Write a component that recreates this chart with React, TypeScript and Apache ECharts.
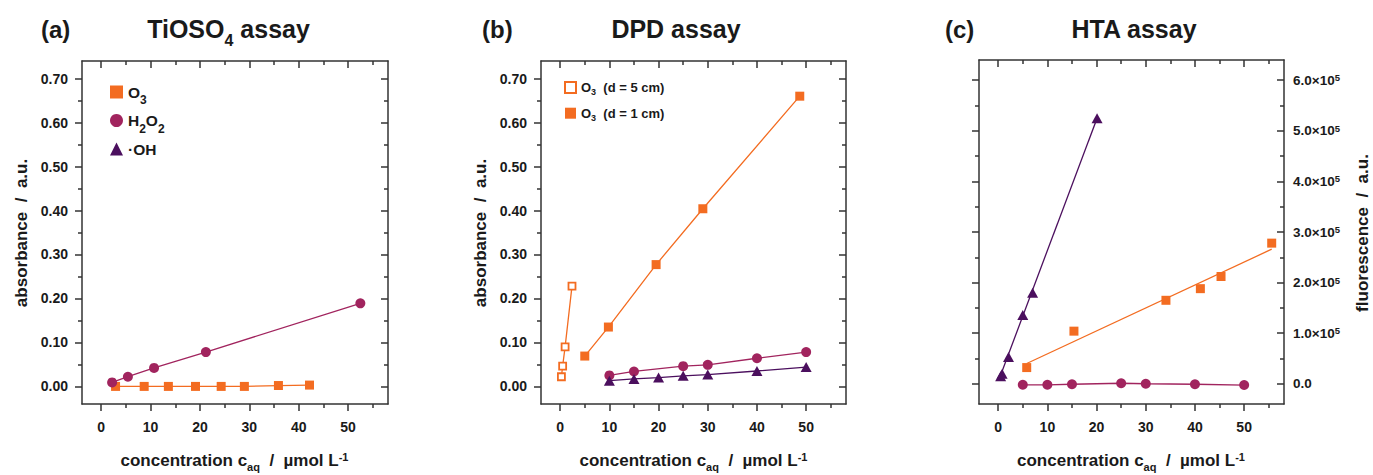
import React, { useEffect, useRef } from "react";
import * as echarts from "echarts";

// ---------- data ----------
const X_TICKS = [0, 10, 20, 30, 40, 50];
const X_MINOR = [5, 15, 25, 35, 45, 55];
const ABS_TICKS = [0, 0.1, 0.2, 0.3, 0.4, 0.5, 0.6, 0.7];
const ABS_MINOR = [0.05, 0.15, 0.25, 0.35, 0.45, 0.55, 0.65];
const FL_TICKS = [0, 100000, 200000, 300000, 400000, 500000, 600000];
const FL_MINOR = [50000, 150000, 250000, 350000, 450000, 550000];

// (a) TiOSO4 assay
const aO3 = [[2.9, 0], [8.7, 0], [13.6, 0], [19.1, 0], [24.3, 0], [29.0, 0], [35.9, 0.002], [42.2, 0.003]];
const aH2O2 = [[2.2, 0.009], [5.4, 0.022], [10.7, 0.042], [21.2, 0.078], [52.5, 0.189]];
const aOH: number[][] = [];

// (b) DPD assay
const bO3d5 = [[0.25, 0.022], [0.5, 0.046], [1.0, 0.09], [2.4, 0.228]];
const bO3d1 = [[5, 0.069], [9.8, 0.135], [19.5, 0.277], [29, 0.404], [48.7, 0.66]];
const bH2O2 = [[10, 0.025], [15, 0.034], [25, 0.046], [30, 0.049], [40, 0.064], [50, 0.078]];
const bOH = [[10, 0.013], [15, 0.017], [20, 0.02], [25, 0.024], [30, 0.027], [40, 0.035], [50, 0.044]];

// (c) HTA assay
const cO3 = [[5.8, 32000], [15.4, 104000], [34.1, 165000], [41.1, 188000], [45.3, 212000], [55.6, 278000]];
const cO3Fit = [[5.8, 40000], [55.6, 266000]];
const cH2O2 = [[5, -2000], [10, -2000], [15, -1000], [25, 1000], [30, 0], [40, -1000], [50, -2500]];
const cOH = [[0.5, 15000], [0.8, 20000], [2.1, 53000], [5.0, 136000], [7.0, 180000], [20.1, 525000]];
const cOHFit = [[0.3, 12000], [20.1, 525000]];

// ---------- styles ----------
const ORANGE = "#F36C21";
const MAROON = "#A1245E";
const PURPLE = "#4B0F5E";
const INK = "#1a1a1a";
const AXIS = "#333333";
const FONT = '"Liberation Sans", Arial, Helvetica, sans-serif';

const X_MIN = -3.9;
const X_MAX = 58.1;
const A_MIN = -0.04;
const A_MAX = 0.74;
const F_MIN = -40000;
const F_MAX = 640000;

const GRIDS = [
  { left: 82, top: 61, width: 306, height: 343 },
  { left: 541, top: 61, width: 305, height: 343 },
  { left: 979, top: 60, width: 305, height: 344 },
];

const lineStyleAxis = { color: AXIS, width: 1.5 };

function makeX(g: number) {
  const base: any = {
    type: "value", gridIndex: g, min: X_MIN, max: X_MAX,
    splitLine: { show: false },
    axisLine: { show: false, onZero: false },
    axisLabel: { show: false },
    axisTick: { show: false },
  };
  return [
    {
      ...base, position: "bottom",
      axisLine: { show: true, onZero: false, lineStyle: lineStyleAxis },
      axisTick: { show: true, inside: false, length: 7, customValues: X_TICKS, lineStyle: lineStyleAxis },
      axisLabel: {
        show: true, customValues: X_TICKS, margin: 16, color: INK,
        fontFamily: FONT, fontWeight: "bold", fontSize: 14,
        formatter: (v: number) => String(v),
      },
    },
    { ...base, position: "bottom", axisTick: { show: true, inside: false, length: 4, customValues: X_MINOR, lineStyle: lineStyleAxis } },
    {
      ...base, position: "top",
      axisLine: { show: true, onZero: false, lineStyle: lineStyleAxis },
      axisTick: { show: true, inside: true, length: 7, customValues: X_TICKS, lineStyle: lineStyleAxis },
    },
    { ...base, position: "top", axisTick: { show: true, inside: true, length: 4, customValues: X_MINOR, lineStyle: lineStyleAxis } },
  ];
}

function makeY(g: number, fluo: boolean) {
  const min = fluo ? F_MIN : A_MIN;
  const max = fluo ? F_MAX : A_MAX;
  const major = fluo ? FL_TICKS : ABS_TICKS;
  const minor = fluo ? FL_MINOR : ABS_MINOR;
  const base: any = {
    type: "value", gridIndex: g, min, max,
    splitLine: { show: false },
    axisLine: { show: false, onZero: false },
    axisLabel: { show: false },
    axisTick: { show: false },
  };
  const absLabel = {
    show: true, customValues: major, margin: 14, color: INK,
    fontFamily: FONT, fontWeight: "bold", fontSize: 14,
    formatter: (v: number) => v.toFixed(2),
  };
  const fluoLabel = {
    show: true, customValues: major, margin: 9, color: INK,
    formatter: (v: number) => (v === 0 ? "{a|0.0}" : `{a|${(v / 100000).toFixed(1)}×10}{s|5}`),
    rich: {
      a: { fontFamily: FONT, fontWeight: "bold", fontSize: 13.5, lineHeight: 17, color: INK },
      s: { fontFamily: FONT, fontWeight: "bold", fontSize: 9.5, lineHeight: 9.5, verticalAlign: "top", padding: [1, 0, 0, 0], color: INK },
    },
  };
  return [
    {
      ...base, position: "left",
      axisLine: { show: true, onZero: false, lineStyle: lineStyleAxis },
      axisTick: { show: true, inside: false, length: 7, customValues: major, lineStyle: lineStyleAxis },
      axisLabel: fluo ? { show: false } : absLabel,
    },
    { ...base, position: "left", axisTick: { show: true, inside: false, length: 4, customValues: minor, lineStyle: lineStyleAxis } },
    {
      ...base, position: "right",
      axisLine: { show: true, onZero: false, lineStyle: lineStyleAxis },
      axisTick: { show: true, inside: true, length: 7, customValues: major, lineStyle: lineStyleAxis },
      axisLabel: fluo ? fluoLabel : { show: false },
    },
    { ...base, position: "right", axisTick: { show: true, inside: true, length: 4, customValues: minor, lineStyle: lineStyleAxis } },
  ];
}

function lineSeries(name: string, g: number, data: number[][], color: string, symbol: string, size: any, itemStyle?: any) {
  return {
    name, type: "line", xAxisIndex: g * 4, yAxisIndex: g * 4, data,
    symbol, symbolSize: size, showSymbol: true,
    itemStyle: itemStyle || { color },
    lineStyle: { color, width: 1.3 },
    z: 3,
  };
}
function fitSeries(name: string, g: number, data: number[][], color: string) {
  return {
    name, type: "line", xAxisIndex: g * 4, yAxisIndex: g * 4, data,
    showSymbol: false, symbol: "none",
    lineStyle: { color, width: 1.3 }, z: 2,
  };
}
function scatterSeries(name: string, g: number, data: number[][], color: string, symbol: string, size: any) {
  return {
    name, type: "scatter", xAxisIndex: g * 4, yAxisIndex: g * 4, data,
    symbol, symbolSize: size, itemStyle: { color, opacity: 1 }, z: 4,
  };
}

const LEGEND_NAMES: Record<string, string> = {
  "a-O3": "{n|O}{s|3}",
  "a-H2O2": "{n|H}{s|2}{n|O}{s|2}",
  "a-OH": "{n|·OH}",
  "b-O3-5": "{n|O}{s|3}{n|  (d = 5 cm)}",
  "b-O3-1": "{n|O}{s|3}{n|  (d = 1 cm)}",
};

function richName(cx: number, cy: number, rot: number) {
  return {
    type: "text", x: cx, y: cy, rotation: rot,
    style: {
      text: "{m|concentration c}{s|aq}{m|  /  µmol L}{p|-1}",
      align: "center", verticalAlign: "middle", textAlign: "center", textVerticalAlign: "middle",
      fill: INK,
      rich: {
        m: { fontFamily: FONT, fontWeight: "bold", fontSize: 17, lineHeight: 24, fill: INK },
        s: { fontFamily: FONT, fontWeight: "bold", fontSize: 11, lineHeight: 11, verticalAlign: "bottom", fill: INK },
        p: { fontFamily: FONT, fontWeight: "bold", fontSize: 11, lineHeight: 11, verticalAlign: "top", padding: [3, 0, 0, 0], fill: INK },
      },
    },
  };
}
function yName(text: string, cx: number, cy: number) {
  return {
    type: "text", x: cx, y: cy, rotation: Math.PI / 2,
    style: {
      text, align: "center", verticalAlign: "middle", textAlign: "center", textVerticalAlign: "middle",
      fill: INK, font: `bold 17px ${FONT}`,
    },
  };
}
function panelTag(text: string, x: number) {
  return {
    type: "text", x, y: 29,
    style: { text, align: "left", verticalAlign: "middle", textAlign: "left", textVerticalAlign: "middle", fill: INK, font: `bold 24px ${FONT}` },
  };
}
function title(text: string, cx: number) {
  return {
    type: "text", x: cx, y: 29,
    style: {
      text, align: "center", verticalAlign: "middle", textAlign: "center", textVerticalAlign: "middle", fill: INK,
      rich: {
        m: { fontFamily: FONT, fontWeight: "bold", fontSize: 25, lineHeight: 38, fill: INK },
        s: { fontFamily: FONT, fontWeight: "bold", fontSize: 16, lineHeight: 16, verticalAlign: "bottom", fill: INK },
      },
    },
  };
}

const option: any = {
  animation: false,
  backgroundColor: "#ffffff",
  grid: GRIDS.map((g) => ({ ...g, containLabel: false })),
  xAxis: [...makeX(0), ...makeX(1), ...makeX(2)],
  yAxis: [...makeY(0, false), ...makeY(1, false), ...makeY(2, true)],
  legend: [
    {
      left: 105, top: 79, orient: "vertical", itemWidth: 13, itemHeight: 13, itemGap: 6.5,
      itemTextGap: 12, selectedMode: false,
      data: [
        { name: "a-O3", icon: "rect", itemStyle: { color: ORANGE, borderWidth: 0 } },
        { name: "a-H2O2", icon: "circle", itemStyle: { color: MAROON, borderWidth: 0 } },
        { name: "a-OH", icon: "triangle", itemStyle: { color: PURPLE, borderWidth: 0 } },
      ],
      formatter: (n: string) => LEGEND_NAMES[n],
      textStyle: {
        color: INK,
        rich: {
          n: { fontFamily: FONT, fontWeight: "bold", fontSize: 15.5, lineHeight: 28, color: INK },
          s: { fontFamily: FONT, fontWeight: "bold", fontSize: 12, lineHeight: 12, verticalAlign: "bottom", color: INK },
        },
      },
    },
    {
      left: 559, top: 76, orient: "vertical", itemWidth: 11, itemHeight: 11, itemGap: 10.2,
      itemTextGap: 10, selectedMode: false,
      data: [
        { name: "b-O3-5", icon: "rect", itemStyle: { color: "#ffffff", borderColor: ORANGE, borderWidth: 2 } },
        { name: "b-O3-1", icon: "rect", itemStyle: { color: ORANGE, borderWidth: 0 } },
      ],
      formatter: (n: string) => LEGEND_NAMES[n],
      textStyle: {
        color: INK,
        rich: {
          n: { fontFamily: FONT, fontWeight: "bold", fontSize: 13, lineHeight: 18, color: INK },
          s: { fontFamily: FONT, fontWeight: "bold", fontSize: 9, lineHeight: 9, verticalAlign: "bottom", color: INK },
        },
      },
    },
  ],
  graphic: [
    panelTag("(a)", 41),
    title("{m|TiOSO}{s|4}{m| assay}", 228.5),
    panelTag("(b)", 482),
    title("{m|DPD assay}", 676),
    panelTag("(c)", 945),
    title("{m|HTA assay}", 1134),
    richName(234.5, 460, 0),
    richName(693.5, 460, 0),
    richName(1131, 460, 0),
    yName("absorbance  /  a.u.", 21, 233),
    yName("absorbance  /  a.u.", 480, 233),
    yName("fluorescence  /  a.u.", 1362, 233),
  ],
  series: [
    // (a)
    lineSeries("a-O3", 0, aO3, ORANGE, "rect", 9),
    lineSeries("a-H2O2", 0, aH2O2, MAROON, "circle", 10),
    lineSeries("a-OH", 0, aOH, PURPLE, "triangle", [11, 10]),
    // (b)
    lineSeries("b-O3-5", 1, bO3d5, ORANGE, "rect", 7, { color: "#ffffff", borderColor: ORANGE, borderWidth: 1.8 }),
    lineSeries("b-O3-1", 1, bO3d1, ORANGE, "rect", 9),
    lineSeries("b-H2O2", 1, bH2O2, MAROON, "circle", 10),
    lineSeries("b-OH", 1, bOH, PURPLE, "triangle", [11, 10]),
    // (c)
    fitSeries("c-O3-fit", 2, cO3Fit, ORANGE),
    scatterSeries("c-O3", 2, cO3, ORANGE, "rect", 9),
    lineSeries("c-H2O2", 2, cH2O2, MAROON, "circle", 10),
    fitSeries("c-OH-fit", 2, cOHFit, PURPLE),
    scatterSeries("c-OH", 2, cOH, PURPLE, "triangle", [11, 10]),
  ],
};

export default function App() {
  const ref = useRef<HTMLDivElement>(null);
  useEffect(() => {
    if (!ref.current) return;
    const chart = echarts.init(ref.current, null, { renderer: "svg" });
    chart.setOption(option);
    return () => chart.dispose();
  }, []);
  return (
    <div
      ref={ref}
      style={{ position: "fixed", left: 0, top: 0, width: 1373, height: 475, background: "#fff" }}
    />
  );
}
